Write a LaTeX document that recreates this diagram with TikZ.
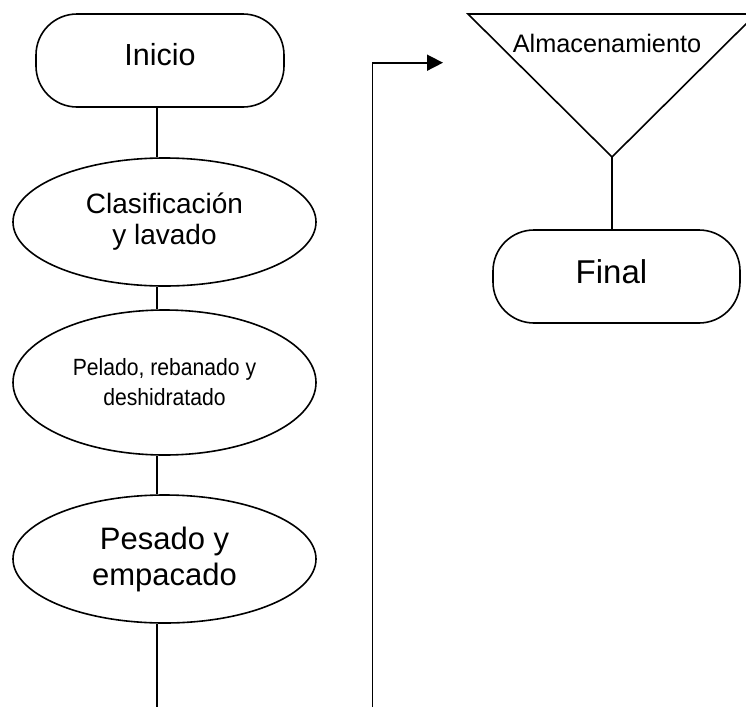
\documentclass[tikz,border=0pt]{standalone}
\usepackage{fontspec}
\setmainfont{Liberation Sans}
\newfontfamily\narrowfont[FakeStretch=0.9]{Liberation Sans}
\usetikzlibrary{shapes.geometric,arrows.meta}
\begin{document}
\begin{tikzpicture}[x=1pt,y=-1pt,line width=1.6pt,
  term/.style={draw,rounded corners=41pt,minimum width=248pt,minimum height=93pt,inner sep=0pt,align=center},
  proc/.style={draw,ellipse,minimum width=303pt,inner sep=0pt,align=center},
  arr/.style={draw,-{Triangle[length=16pt,width=16pt]}}]
\useasboundingbox (0,0) rectangle (746,707);
\clip (0,0) rectangle (746,707);
% left column
\node[term,font=\fontsize{30.5}{36}\selectfont] (inicio) at (160,60.5) {\raisebox{12pt}{Inicio}};
\node[proc,minimum height=128pt,font=\fontsize{28}{31}\selectfont] (clas) at (164.5,222) {Clasificación\\y lavado};
\node[proc,minimum height=145pt,font=\narrowfont\fontsize{23.5}{30}\selectfont] (pel) at (164.5,382.5) {Pelado, rebanado y\\deshidratado};
\node[proc,minimum height=128pt,font=\fontsize{31}{36}\selectfont] (pes) at (164.5,559) {Pesado y\\empacado};
\coordinate (colx) at (157,0);
\coordinate (bot) at (157,707);
\draw (inicio.south -| colx) -- (clas.north -| colx);
\draw (clas.south -| colx) -- (pel.north -| colx);
\draw (pel.south -| colx) -- (pes.north -| colx);
\draw (pes.south -| colx) -- (bot);
% long connector with arrow
\coordinate (rb) at (372.3,707);
\coordinate (tip) at (443,62.7);
\draw[arr] (rb) |- (tip);
% storage triangle
\coordinate (tl) at (468,14);
\coordinate (tr) at (756,14);
\coordinate (tb) at (612,157);
\draw[line join=miter] (tl) -- (tr) -- (tb) -- cycle;
\node[font=\fontsize{25.3}{30}\selectfont,inner sep=0pt] (alm) at (607,43) {Almacenamiento};
\node[term,minimum width=247pt,font=\fontsize{33}{38}\selectfont] (final) at (616.5,276.5) {\raisebox{10pt}{\hspace*{-10pt}Final}};
\draw (tb) -- (final.north -| tb);
\end{tikzpicture}
\end{document}
